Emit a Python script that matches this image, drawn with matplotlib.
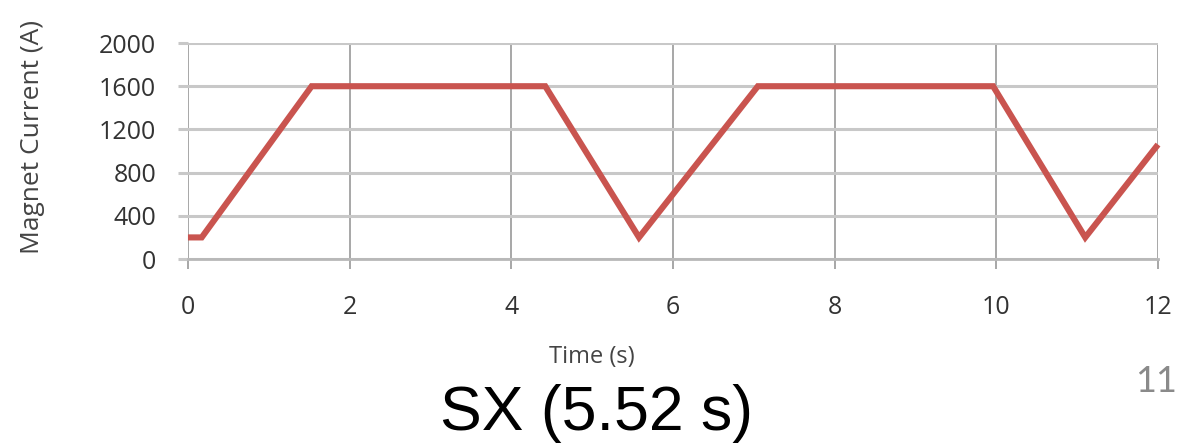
import matplotlib
matplotlib.use("Agg")
import matplotlib.pyplot as plt

# Magnet current ramp cycle (time in s, current in A)
time_s = [0.0, 0.17, 1.53, 4.42, 5.58, 7.05, 9.96, 11.10, 12.0]
current_a = [200, 200, 1600, 1600, 200, 1600, 1600, 200, 1060]

x_ticks = [0, 2, 4, 6, 8, 10, 12]
y_ticks = [0, 400, 800, 1200, 1600, 2000]

fig = plt.figure(figsize=(12.01, 4.43), dpi=100)
ax = fig.add_axes([0.1565, 0.4153, 0.8077, 0.4876])

ax.plot(time_s, current_a, color="#c9544f", lw=4.4, solid_joinstyle="miter",
        solid_capstyle="butt", zorder=3, clip_on=False)

ax.set_xlim(0, 12)
ax.set_ylim(0, 2000)
ax.set_xticks(x_ticks)
ax.set_yticks(y_ticks)

for s in ["top", "right", "left"]:
    ax.spines[s].set_visible(False)
ax.spines["bottom"].set_color("#b8b8b8")
ax.spines["bottom"].set_linewidth(2)

ax.grid(axis="y", color="#c8c8c8", lw=2.2)
ax.grid(axis="x", color="#a0a0a0", lw=1.3)
ax.set_axisbelow(True)

ax.tick_params(axis="y", length=7, width=2.2, color="#c8c8c8", pad=16,
               labelsize=18, labelcolor="#333333")
ax.tick_params(axis="x", length=7, width=1.3, color="#a0a0a0", pad=19,
               labelsize=18, labelcolor="#333333")
for lbl in ax.get_xticklabels() + ax.get_yticklabels():
    lbl.set_fontfamily("Open Sans")

fig.text(0.027, 1 - 137 / 443, "Magnet Current (A)", rotation=90, ha="center",
         va="center", fontsize=19, color="#444444", family="Open Sans")
fig.text(592 / 1201, 1 - 357 / 443, "Time (s)", ha="center", va="center",
         fontsize=17, color="#444444", family="Open Sans")

fig.text(596 / 1201, 1 - 430 / 443, "SX (5.52 s)", ha="center",
         va="baseline", fontsize=45, color="black", family="Liberation Sans")
fig.text(1177 / 1201, 1 - 382 / 443, "11", ha="right", va="center",
         fontsize=26, color="#8a8a8a", family="Lato")

fig.savefig("out.png", dpi=100)
